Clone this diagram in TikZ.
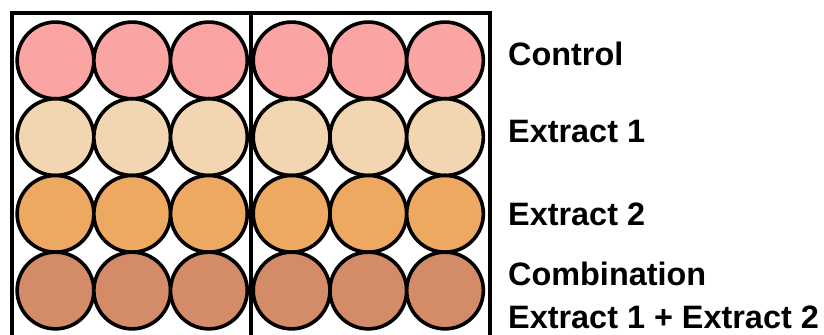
\documentclass[tikz,border=0pt]{standalone}
\usepackage{fontspec}
\setmainfont{Liberation Sans}
\usepackage{xcolor}
\usetikzlibrary{positioning}
\definecolor{ctrlpink}{RGB}{250,165,163}
\definecolor{exonebeige}{RGB}{242,214,178}
\definecolor{extwoorange}{RGB}{237,168,98}
\definecolor{combbrown}{RGB}{211,139,104}
\tikzset{
  well/.style={
    circle,
    draw,
    line width=3.6bp,
    minimum size=76.7bp,
    inner sep=0pt,
    outer sep=0pt
  },
  ctrlwell/.style={well, fill=ctrlpink},
  exonewell/.style={well, fill=exonebeige},
  extwowell/.style={well, fill=extwoorange},
  combwell/.style={well, fill=combbrown},
  rowlabel/.style={
    anchor=base west,
    inner sep=0pt,
    font=\fontsize{32.4bp}{38bp}\selectfont\bfseries
  },
  plate/.style={line width=3.2bp}
}
\begin{document}
\begin{tikzpicture}[x=1bp, y=1bp, node distance=0bp]
  \useasboundingbox (0,0) rectangle (824,-334);

  % plate outline and middle divider
  \coordinate (pbl) at (12,-336);
  \coordinate (ptr) at (490,-13);
  \coordinate (pbr) at (490,-336);
  \coordinate (dtop) at (251,-13);
  \coordinate (dbot) at (251,-336);
  \draw[plate] (pbl) |- (ptr) -- (pbr);
  \draw[plate] (dtop) -- (dbot);

  % control row
  \node[ctrlwell] (c1) at (55.5,-60.4) {};
  \node[ctrlwell, right=of c1] (c2) {};
  \node[ctrlwell, right=of c2] (c3) {};
  \node[ctrlwell, right=6bp of c3] (c4) {};
  \node[ctrlwell, right=of c4] (c5) {};
  \node[ctrlwell, right=of c5] (c6) {};

  % extract 1 row
  \node[exonewell, below=of c1] (e1) {};
  \node[exonewell, right=of e1] (e2) {};
  \node[exonewell, right=of e2] (e3) {};
  \node[exonewell, right=6bp of e3] (e4) {};
  \node[exonewell, right=of e4] (e5) {};
  \node[exonewell, right=of e5] (e6) {};

  % extract 2 row
  \node[extwowell, below=of e1] (f1) {};
  \node[extwowell, right=of f1] (f2) {};
  \node[extwowell, right=of f2] (f3) {};
  \node[extwowell, right=6bp of f3] (f4) {};
  \node[extwowell, right=of f4] (f5) {};
  \node[extwowell, right=of f5] (f6) {};

  % combination row
  \node[combwell, below=of f1] (m1) {};
  \node[combwell, right=of m1] (m2) {};
  \node[combwell, right=of m2] (m3) {};
  \node[combwell, right=6bp of m3] (m4) {};
  \node[combwell, right=of m4] (m5) {};
  \node[combwell, right=of m5] (m6) {};

  % row labels
  \node[rowlabel] (lctrl) at (508,-65) {Control};
  \node[rowlabel] (lexone) at (508,-142) {Extract 1};
  \node[rowlabel] (lextwo) at (508,-225) {Extract 2};
  \node[rowlabel] (lcomb) at (508,-285) {Combination};
  \node[rowlabel] (lcombsub) at (508,-328) {Extract 1 + Extract 2};
\end{tikzpicture}
\end{document}
